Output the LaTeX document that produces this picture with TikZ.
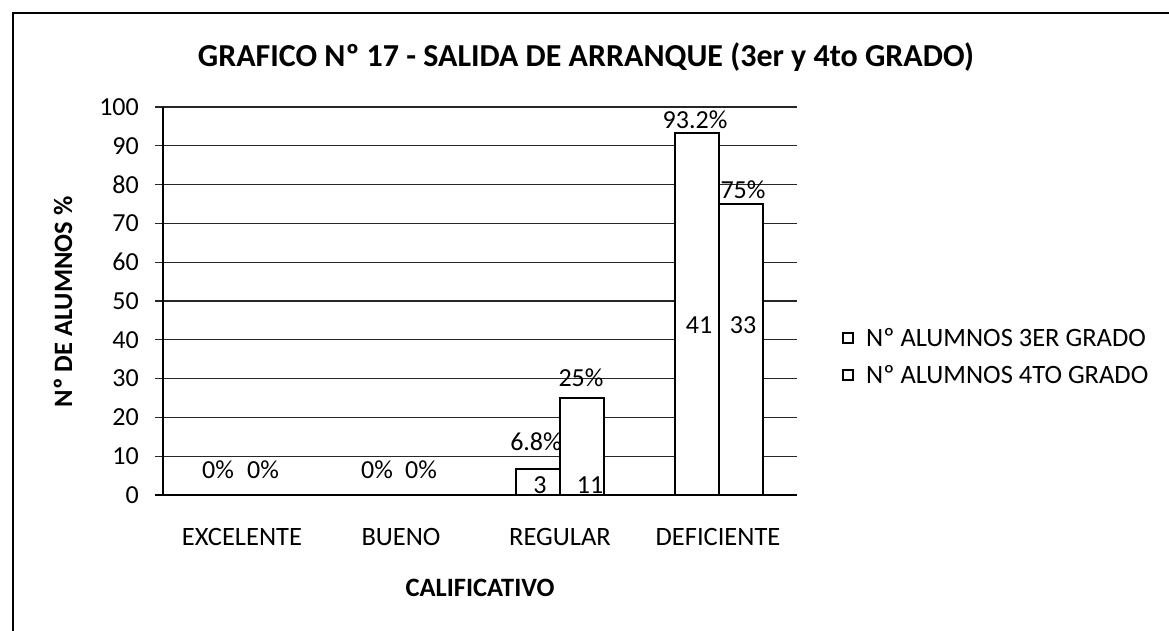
\documentclass[tikz,border=0pt]{standalone}
\usepackage{fontspec}
\setmainfont{Carlito}
\begin{document}
\begin{tikzpicture}[x=1pt,y=-1pt,
  gridline/.style={line width=1.3pt, black!85},
  axisline/.style={line width=1.5pt, black},
  barbox/.style={draw=black, line width=2pt, fill=white},
  frameline/.style={line width=2.4pt, black},
  ticklbl/.style={font=\fontsize{26}{30}\selectfont, anchor=east, inner sep=0pt},
  datalbl/.style={font=\fontsize{26}{30}\selectfont, inner sep=0pt},
  catlbl/.style={font=\fontsize{26.5}{30}\selectfont, inner sep=0pt},
  leglbl/.style={font=\fontsize{26.5}{30}\selectfont, anchor=west, inner sep=0pt},
  boldlbl/.style={font=\bfseries\fontsize{26.5}{30}\selectfont, inner sep=0pt},
  titlelbl/.style={font=\bfseries\fontsize{32}{36}\selectfont, inner sep=0pt},
  legbox/.style={draw=black, line width=1.8pt, fill=white}
]
\useasboundingbox (0,0) rectangle (1169,631);
% frame
\draw[frameline] (13,631) -- (13,13) -- (1169,13);
% title
\node[titlelbl] (title) at (586,57) {GRAFICO Nº 17 - SALIDA DE ARRANQUE (3er y 4to GRADO)};
% grid lines and tick labels
\foreach \k in {0,...,10}{
  \pgfmathsetmacro\yy{495-38.8*\k}
  \pgfmathtruncatemacro\vv{10*\k}
  \draw[gridline] (155,\yy) -- (797,\yy);
  \node[ticklbl] (tick\k) at (139,\yy) {\vv};
}
% bars
\draw[barbox] (516,495) rectangle (560,{495-6.8*3.88});
\draw[barbox] (560,495) rectangle (604,{495-25*3.88});
\draw[barbox] (675,495) rectangle (719,{495-93.2*3.88});
\draw[barbox] (719,495) rectangle (763,{495-75*3.88});
% axes
\draw[axisline] (155,495) -- (797,495);
\draw[axisline] (163,107) -- (163,495);
% data labels
\node[datalbl] (e1) at (218,470) {0\%};
\node[datalbl] (e2) at (263,470) {0\%};
\node[datalbl] (b1) at (377,470) {0\%};
\node[datalbl] (b2) at (421,470) {0\%};
\node[datalbl] (r1) at (536,442) {6.8\%};
\node[datalbl] (r2) at (581,378) {25\%};
\node[datalbl] (d1) at (695,120) {93.2\%};
\node[datalbl] (d2) at (743,190) {75\%};
\node[datalbl] (n41) at (699,325) {41};
\node[datalbl] (n33) at (743,325) {33};
\begin{scope}
  \clip (163,100) rectangle (797,494);
  \node[datalbl] (n3) at (540,485) {3};
  \node[datalbl] (n11) at (590,485) {11};
\end{scope}
% category labels
\node[catlbl] (c1) at (242,537) {EXCELENTE};
\node[catlbl] (c2) at (401,537) {BUENO};
\node[catlbl] (c3) at (560,537) {REGULAR};
\node[catlbl] (c4) at (718,537) {DEFICIENTE};
% axis titles
\node[boldlbl] (xt) at (480,588) {CALIFICATIVO};
\node[boldlbl, rotate=90] (yt) at (63,302) {Nº DE ALUMNOS \%};
% legend
\draw[legbox] (843,333) rectangle (853,343);
\node[leglbl] (l1) at (866,338) {Nº ALUMNOS 3ER GRADO};
\draw[legbox] (843,370) rectangle (853,380);
\node[leglbl] (l2) at (866,375) {Nº ALUMNOS 4TO GRADO};
\end{tikzpicture}
\end{document}
